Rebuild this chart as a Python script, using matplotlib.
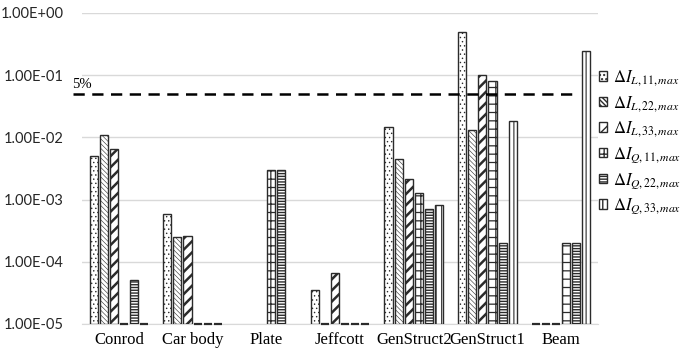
import numpy as np
import matplotlib
matplotlib.use("Agg")
import matplotlib.pyplot as plt
from matplotlib.ticker import FixedLocator

plt.rcParams["mathtext.fontset"] = "stix"

# данные (значения с рисунка; 0 — столбик на базе, nan — нет столбика)
categories = ["Conrod", "Car body", "Plate", "Jeffcott", "GenStruct2", "GenStruct1", "Beam"]
L11 = [5.0e-3, 5.8e-4, np.nan, 3.5e-5, 1.46e-2, 0.50, 0]
L22 = [1.08e-2, 2.5e-4, np.nan, 0, 4.4e-3, 1.3e-2, 0]
L33 = [6.6e-3, 2.6e-4, np.nan, 6.5e-5, 2.17e-3, 0.10, 0]
Q11 = [0, 0, 3.0e-3, 0, 1.29e-3, 8.1e-2, 2.0e-4]
Q22 = [5.0e-5, 0, 3.0e-3, 0, 7.1e-4, 2.0e-4, 2.0e-4]
Q33 = [0, 0, np.nan, 0, 8.1e-4, 1.8e-2, 0.24]
labels = [r"$\Delta I_{L,11,max}$", r"$\Delta I_{L,22,max}$", r"$\Delta I_{L,33,max}$",
          r"$\Delta I_{Q,11,max}$", r"$\Delta I_{Q,22,max}$", r"$\Delta I_{Q,33,max}$"]
yticks = [1e-5, 1e-4, 1e-3, 1e-2, 1e-1, 1e0]
ytick_labels = ["1.00E-05", "1.00E-04", "1.00E-03", "1.00E-02", "1.00E-01", "1.00E+00"]
limit = 0.05

series = [L11, L22, L33, Q11, Q22, Q33]
hatches = ["....", "\\\\\\\\\\\\\\", "///", "++", "------", "|||"]
hlw = [0.5, 0.4, 1.8, 0.9, 1.0, 0.8]

BASE = 1e-5
STEP = 0.137
WIDTH = 0.11

fig = plt.figure(figsize=(6.85, 3.5), dpi=100)
ax = fig.add_axes([0.1197, 0.0743, 0.7533, 0.889])
ax.set_yscale("log")

x = np.arange(len(categories))
handles = []
for i, (vals, h, lw) in enumerate(zip(series, hatches, hlw)):
    v = np.array(vals, dtype=float)
    xi = x + (i - 2.5) * STEP
    with plt.rc_context({"hatch.linewidth": lw}):
        bars = ax.bar(xi, np.where(v == 0, np.nan, v) - BASE, bottom=BASE, width=WIDTH,
                      color="white", edgecolor="#2b2b2b", linewidth=1.0, hatch=h,
                      zorder=3, label=labels[i])
        for b in bars:
            try:
                b.set_hatch_linewidth(lw)
            except AttributeError:
                pass
    handles.append(bars)
    # нулевые значения — короткая черта на базе
    z = v == 0
    ax.hlines(np.full(z.sum(), BASE), xi[z] - WIDTH / 2, xi[z] + WIDTH / 2,
              color="#2b2b2b", linewidth=1.6, zorder=4, clip_on=False)

# линия 5%
ax.plot([-0.62, 6.22], [limit, limit], color="black", lw=1.8,
        linestyle=(0, (4.5, 3)), zorder=4, clip_on=False)
ax.text(-0.63, limit * 1.12, "5%", fontsize=10.5, family="Liberation Serif",
        ha="left", va="bottom")

ax.set_xlim(-0.5, 6.5)
ax.set_ylim(1e-5, 1)
ax.yaxis.set_major_locator(FixedLocator(yticks))
ax.yaxis.set_minor_locator(FixedLocator([]))
ax.set_yticklabels(ytick_labels, fontsize=10.5, family="Lato", color="#262626")
ax.set_xticks(x)
ax.set_xticklabels(categories, fontsize=12, family="Liberation Serif")
ax.tick_params(axis="both", length=0, pad=6)
ax.tick_params(axis="y", pad=13)
ax.grid(axis="y", color="#d9d9d9", linewidth=1.0, zorder=0)
for s in ["top", "right", "left"]:
    ax.spines[s].set_visible(False)
ax.spines["bottom"].set_color("#d9d9d9")
ax.spines["bottom"].set_zorder(0)

leg = ax.legend(handles=handles, loc="upper left", bbox_to_anchor=(0.985, 0.85),
                frameon=False, fontsize=12, handlelength=0.5, handleheight=0.5,
                handletextpad=0.35, labelspacing=0.32, borderaxespad=0.1)

fig.savefig("out.png", dpi=100)
